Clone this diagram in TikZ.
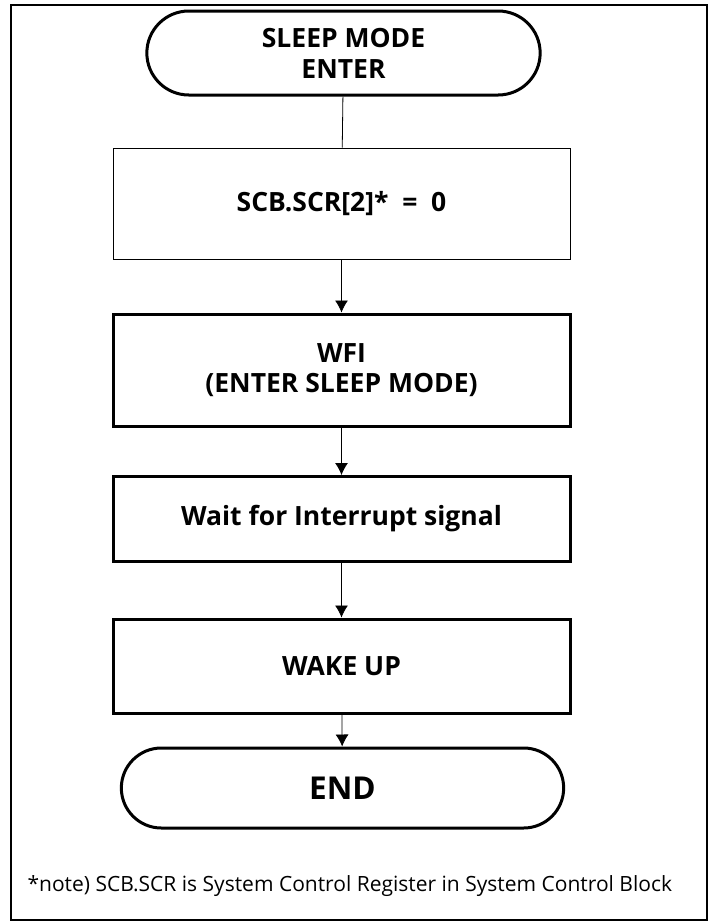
\documentclass[tikz,border=0pt]{standalone}
\usepackage{fontspec}
\setmainfont{Open Sans}
\usetikzlibrary{chains,shapes.misc,arrows.meta}

\begin{document}
\begin{tikzpicture}[x=1pt,y=-1pt,
  term/.style={
   draw,
   rounded rectangle,
   anchor=center,
   line width=3pt,
   align=center,
   font=\bfseries\fontsize{26.5}{31}\selectfont
  },
  proc/.style={
    draw,
    anchor=center,
    line width=3pt,
    minimum width=457pt,
    align=center,
    font=\bfseries\fontsize{26.5}{30}\selectfont
  },
  arr/.style={
    line width=0.8pt,
    -{Latex[length=12pt,width=13pt]}
  },
  start chain=1,node distance=0pt]
  \useasboundingbox (0,0) rectangle (712,922);
  \draw[line width=2pt] (11,5) rectangle (707,920);

  \node[on chain=1,term,minimum width=400pt,minimum height=84pt] at (343.5,53)
      (enter) {SLEEP MODE\\ENTER};
  \node[on chain=1,proc,line width=0.9pt,minimum height=111pt,join=by {line width=0.8pt}] at (341.5,203.5)
      (scr) {SCB.SCR[2]*\ \ =\ \ 0};
  \node[on chain=1,proc,minimum height=112pt,join=by arr] at (341.5,370)
      (wfi) {WFI\\(ENTER SLEEP MODE)};
  \node[on chain=1,proc,minimum height=85pt,join=by arr] at (341.5,519)
      (wait) {Wait for Interrupt signal};
  \node[on chain=1,proc,minimum height=94pt,join=by arr] at (341.5,666)
      (wake) {WAKE UP};
  \node[on chain=1,term,minimum width=449pt,minimum height=80pt,font=\bfseries\fontsize{31.5}{34}\selectfont,join=by arr] at (342.5,788)
      (end) {END};

  \node[anchor=west,font=\fontsize{21}{25}\selectfont] at (24,886)
      (note) {*note) SCB.SCR is System Control Register in System Control Block};
\end{tikzpicture}
\end{document}
